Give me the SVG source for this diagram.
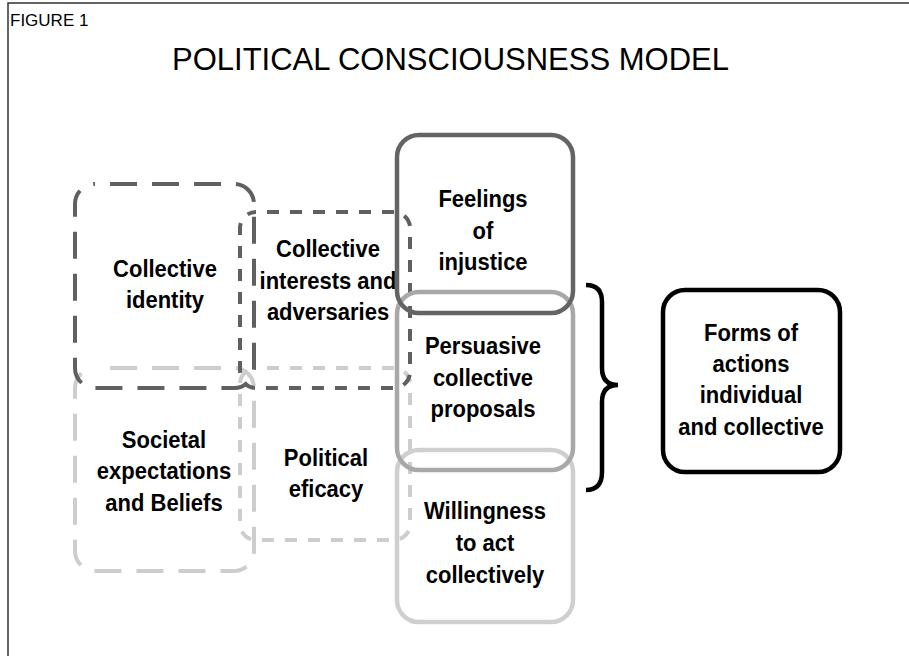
<svg xmlns="http://www.w3.org/2000/svg" width="909" height="656" viewBox="0 0 909 656">
<style>
.lbl{font-family:"Liberation Sans",Arial,sans-serif;font-weight:bold;font-size:22px;fill:#000;text-anchor:middle}
.dl{fill:none;stroke-width:4;stroke-dasharray:27 15;stroke-dashoffset:27}
.ds{fill:none;stroke-width:4;stroke-dasharray:12 11;stroke-dashoffset:12}
.sol{fill:none;stroke-width:4.5}
</style>
<rect x="0" y="0" width="909" height="656" fill="#fff"/>
<rect x="8" y="3" width="1000" height="700" fill="none" stroke="#333" stroke-width="1.5"/>
<text x="10" y="25.5" font-family="Liberation Sans,Arial,sans-serif" font-size="17" fill="#000">FIGURE 1</text>
<text x="172" y="70" font-family="Liberation Sans,Arial,sans-serif" font-size="31" fill="#000">POLITICAL CONSCIOUSNESS MODEL</text>

<g id="societal">
<rect class="dl" x="75" y="368" width="179" height="203" rx="20" stroke="#cdcdcd"/>
<text class="lbl" transform="translate(164,0) scale(1,1.1)"><tspan x="0" y="407.3">Societal</tspan><tspan x="0" y="435.5">expectations</tspan><tspan x="0" y="464.5">and Beliefs</tspan></text>
</g>
<g id="eficacy">
<rect class="ds" x="240" y="368" width="170" height="172" rx="16" stroke="#cdcdcd"/>
<text class="lbl" transform="translate(326,0) scale(1,1.1)"><tspan x="0" y="423.6">Political</tspan><tspan x="0" y="451.8">eficacy</tspan></text>
</g>
<g id="identity">
<rect class="dl" x="75" y="184" width="179" height="204" rx="20" stroke="#606060"/>
<text class="lbl" transform="translate(165,0) scale(1,1.1)"><tspan x="0" y="251.8">Collective</tspan><tspan x="0" y="280">identity</tspan></text>
</g>
<g id="interests">
<rect class="ds" x="240" y="212" width="170" height="176" rx="16" stroke="#606060"/>
<text class="lbl" transform="translate(328,0) scale(1,1.1)"><tspan x="0" y="233.6">Collective</tspan><tspan x="0" y="262.7">interests and</tspan><tspan x="0" y="290.9">adversaries</tspan></text>
</g>
<g id="willingness">
<rect class="sol" x="397" y="450" width="176" height="172" rx="22" stroke="#cfcfcf"/>
<text class="lbl" transform="translate(485,0) scale(1,1.1)"><tspan x="0" y="471.8">Willingness</tspan><tspan x="0" y="500.9">to act</tspan><tspan x="0" y="530">collectively</tspan></text>
</g>
<g id="persuasive">
<rect class="sol" x="397" y="292" width="176" height="178" rx="22" stroke="#a8a8a8"/>
<text class="lbl" transform="translate(483,0) scale(1,1.1)"><tspan x="0" y="321.8">Persuasive</tspan><tspan x="0" y="350.9">collective</tspan><tspan x="0" y="379.1">proposals</tspan></text>
</g>
<g id="feelings">
<rect class="sol" x="397" y="135" width="176" height="178" rx="22" stroke="#646464"/>
<text class="lbl" transform="translate(483,0) scale(1,1.1)"><tspan x="0" y="188.2">Feelings</tspan><tspan x="0" y="217.3">of</tspan><tspan x="0" y="245.5">injustice</tspan></text>
</g>
<g id="connectors">
<path d="M586 285 Q602 285 602 302 L602 368 Q602 385 618 385 Q602 385 602 402 L602 472 Q602 490 586 490" fill="none" stroke="#000" stroke-width="4.5"/>
</g>
<g id="forms">
<rect class="sol" x="663" y="290" width="177" height="182" rx="22" stroke="#000"/>
<text class="lbl" transform="translate(751,0) scale(1,1.1)"><tspan x="0" y="310">Forms of</tspan><tspan x="0" y="338.2">actions</tspan><tspan x="0" y="366.4">individual</tspan><tspan x="0" y="395.5">and collective</tspan></text>
</g>
</svg>
